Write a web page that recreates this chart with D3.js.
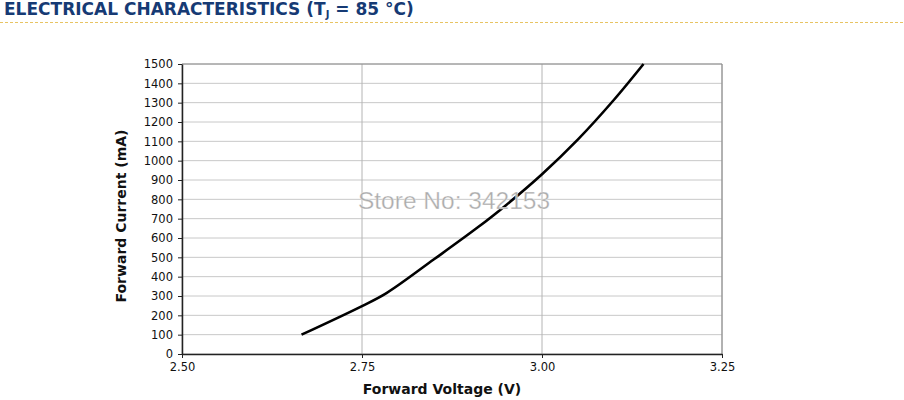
<!DOCTYPE html>
<html>
<head>
<meta charset="utf-8">
<script src="https://cdn.jsdelivr.net/npm/d3@7"></script>
<style>
  body { margin: 0; background: #fff; }
  text { font-family: "DejaVu Sans", Verdana, sans-serif; }
</style>
</head>
<body>
<svg id="chart" width="904" height="400"></svg>
<script>
// curve
var voltage = [2.666, 2.75, 2.784, 2.85, 2.909, 2.95, 3.0, 3.05, 3.1, 3.141];
var current = [100, 248, 315, 490, 650, 770, 930, 1110, 1315, 1500];

var xTicks = [2.50, 2.75, 3.00, 3.25];
var yTicks = d3.range(0, 1501, 100);

var title = "ELECTRICAL CHARACTERISTICS (T";
var xTitle = "Forward Voltage (V)";
var yTitle = "Forward Current (mA)";

var margin = {top: 64, right: 182, bottom: 46, left: 182},
  width = 904 - margin.left - margin.right,
  height = 400 - margin.top - margin.bottom;

var svg = d3.select("#chart");

// title + dashed rule
var t = svg.append("text")
  .attr("x", 4).attr("y", 15)
  .attr("font-size", 17).attr("font-weight", "bold")
  .attr("fill", "#163a74")
  .text(title);
t.append("tspan").attr("font-size", 10).attr("dy", 3).text("J");
t.append("tspan").attr("dy", -3).text(" = 85 °C)");

svg.append("line")
  .attr("x1", 0).attr("x2", 904).attr("y1", 22.5).attr("y2", 22.5)
  .attr("stroke", "#e8c463").attr("stroke-width", 1)
  .attr("stroke-dasharray", "3,2");

var g = svg.append("g")
  .attr("transform", "translate(" + margin.left + "," + margin.top + ")");

var x = d3.scaleLinear().domain([2.5, 3.25]).range([0, width]);
var y = d3.scaleLinear().domain([0, 1500]).range([height, 0]);

// horizontal grid
g.append("g")
  .selectAll("line")
  .data(yTicks)
  .join("line")
  .attr("x1", 0).attr("x2", width)
  .attr("y1", function(d) { return y(d); })
  .attr("y2", function(d) { return y(d); })
  .attr("stroke", "#c8c8c8");

// vertical grid
g.append("g")
  .selectAll("line")
  .data(xTicks)
  .join("line")
  .attr("x1", function(d) { return x(d); })
  .attr("x2", function(d) { return x(d); })
  .attr("y1", 0).attr("y2", height)
  .attr("stroke", "#b4b4b4");

// top/right frame
g.append("path")
  .attr("d", "M0,0H" + width + "V" + height)
  .attr("fill", "none").attr("stroke", "#8a8a8a");

// watermark
svg.append("text")
  .attr("x", 454).attr("y", 209)
  .attr("text-anchor", "middle")
  .attr("font-size", 24.5)
  .style("font-family", "'Liberation Sans', Arial, sans-serif")
  .attr("fill", "#ababab")
  .attr("stroke", "#ffffff").attr("stroke-width", 0.6).attr("stroke-opacity", 0.6)
  .text("Store No: 342153");

// axes
var yAxis = g.append("g")
  .call(d3.axisLeft(y).tickValues(yTicks).tickFormat(d3.format("d")).tickSize(4).tickPadding(5).tickSizeOuter(0));
var xAxis = g.append("g")
  .attr("transform", "translate(0," + height + ")")
  .call(d3.axisBottom(x).tickValues(xTicks).tickFormat(d3.format(".2f")).tickSize(4).tickPadding(5).tickSizeOuter(0));

[xAxis, yAxis].forEach(function(a) {
  a.select(".domain").attr("stroke", "#222").attr("stroke-width", 1.5);
  a.selectAll(".tick line").attr("stroke", "#222");
  a.selectAll("text").attr("font-size", 11.5).attr("fill", "#111")
    .style("font-family", "'DejaVu Sans', Verdana, sans-serif");
});

// the curve
var line = d3.line()
  .x(function(d, i) { return x(voltage[i]); })
  .y(function(d, i) { return y(current[i]); })
  .curve(d3.curveCatmullRom.alpha(0.5));

g.append("path")
  .datum(voltage)
  .attr("d", line)
  .attr("fill", "none")
  .attr("stroke", "#000")
  .attr("stroke-width", 2.6);

// axis titles
svg.append("text")
  .attr("x", 442).attr("y", 394)
  .attr("text-anchor", "middle")
  .attr("font-size", 14).attr("font-weight", "bold")
  .attr("fill", "#111")
  .text(xTitle);

svg.append("text")
  .attr("transform", "translate(126,216) rotate(-90)")
  .attr("text-anchor", "middle")
  .attr("font-size", 14).attr("font-weight", "bold")
  .attr("fill", "#111")
  .text(yTitle);
</script>
</body>
</html>
